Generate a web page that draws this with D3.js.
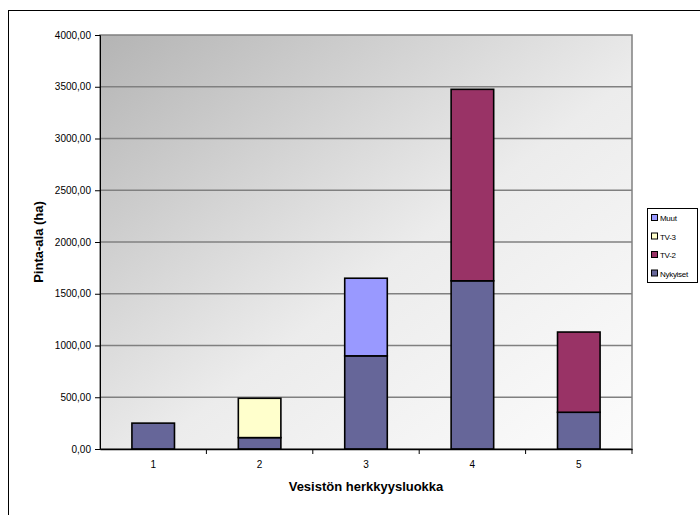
<!DOCTYPE html>
<html>
<head>
<meta charset="utf-8">
<script src="https://cdn.jsdelivr.net/npm/d3@7"></script>
<style>
  html, body { margin: 0; padding: 0; background: #fff; }
  svg { display: block; font-family: "Liberation Sans", Arial, sans-serif; }
</style>
</head>
<body>
<svg id="chart" width="700" height="515"></svg>
<script>
// Vesistön herkkyysluokat ja pinta-alat (ha) sarjoittain
const categories = ["1", "2", "3", "4", "5"];
const seriesNames = ["Nykyiset", "TV-2", "TV-3", "Muut"];
const nykyiset = [250, 110, 900, 1625, 355];
const tv2 = [0, 0, 0, 1850, 775];
const tv3 = [0, 380, 0, 0, 0];
const muut = [0, 0, 750, 0, 0];
const yTicks = [0, 500, 1000, 1500, 2000, 2500, 3000, 3500, 4000];
const seriesColors = ["#666699", "#993366", "#FFFFCC", "#9999FF"];

const svg = d3.select("#chart");
const plot = { left: 100, top: 35, right: 632, bottom: 449 };

// outer frame
svg.append("rect")
  .attr("x", 8.5).attr("y", 10.5)
  .attr("width", 700).attr("height", 520)
  .attr("fill", "#fff").attr("stroke", "#000").attr("stroke-width", 1);

// gradient background of the plot area
const defs = svg.append("defs");
const grad = defs.append("linearGradient")
  .attr("id", "bg").attr("x1", "0").attr("y1", "0").attr("x2", "1").attr("y2", "1");
grad.append("stop").attr("offset", "0%").attr("stop-color", "#b4b4b4");
grad.append("stop").attr("offset", "55%").attr("stop-color", "#ececec");
grad.append("stop").attr("offset", "100%").attr("stop-color", "#fcfcfc");

svg.append("rect")
  .attr("x", plot.left).attr("y", plot.top)
  .attr("width", plot.right - plot.left).attr("height", plot.bottom - plot.top)
  .attr("fill", "url(#bg)").attr("stroke", "#808080").attr("stroke-width", 1.5);

const x = d3.scaleBand().domain(categories).range([plot.left, plot.right]).paddingInner(0.6).paddingOuter(0.3);
const xb = d3.scaleBand().domain(categories).range([plot.left, plot.right]);
const y = d3.scaleLinear().domain([0, 4000]).range([plot.bottom, plot.top]);

// gridlines
svg.append("g").selectAll("line").data(yTicks.slice(1, -1)).join("line")
  .attr("x1", plot.left).attr("x2", plot.right)
  .attr("y1", d => y(d)).attr("y2", d => y(d))
  .attr("stroke", "#808080").attr("stroke-width", 1.3);

// stacked bars
const rows = categories.map((c, i) => ({ cat: c, Nykyiset: nykyiset[i], "TV-2": tv2[i], "TV-3": tv3[i], Muut: muut[i] }));
const stacked = d3.stack().keys(seriesNames)(rows);
stacked.forEach((layer, si) => {
  svg.append("g").selectAll("rect").data(layer.filter(d => d[1] - d[0] > 0)).join("rect")
    .attr("x", d => x(d.data.cat))
    .attr("width", x.bandwidth())
    .attr("y", d => y(d[1]))
    .attr("height", d => y(d[0]) - y(d[1]))
    .attr("fill", seriesColors[si])
    .attr("stroke", "#000").attr("stroke-width", 1.6);
});

// y axis
const fmt = d => d.toFixed(2).replace(".", ",");
const yAxis = svg.append("g").attr("transform", `translate(${plot.left},0)`)
  .call(d3.axisLeft(y).tickValues(yTicks).tickFormat(fmt).tickSize(5).tickPadding(4));
yAxis.select(".domain").attr("stroke", "#000");
yAxis.selectAll("line").attr("stroke", "#000");
yAxis.selectAll("text").attr("font-size", 10).attr("fill", "#000")
  .attr("font-family", "'Liberation Sans', Arial, sans-serif");

// x axis with ticks at category boundaries
const xAxis = svg.append("g").attr("transform", `translate(0,${plot.bottom})`)
  .call(d3.axisBottom(xb).tickSize(0).tickPadding(12));
xAxis.select(".domain").attr("stroke", "#000").attr("stroke-width", 1.5);
xAxis.selectAll("text").attr("font-size", 10).attr("fill", "#000")
  .attr("font-family", "'Liberation Sans', Arial, sans-serif");
xAxis.selectAll(".bound").data(categories.slice(1).concat(["end"])).join("line")
  .attr("x1", (d, i) => plot.left + xb.step() * (i + 1))
  .attr("x2", (d, i) => plot.left + xb.step() * (i + 1))
  .attr("y1", 0).attr("y2", 5).attr("stroke", "#000");

// axis titles
svg.append("text")
  .attr("transform", `translate(43,${(plot.top + plot.bottom) / 2}) rotate(-90)`)
  .attr("text-anchor", "middle").attr("font-size", 13).attr("font-weight", "bold")
  .text("Pinta-ala (ha)");
svg.append("text")
  .attr("x", (plot.left + plot.right) / 2).attr("y", 491)
  .attr("text-anchor", "middle").attr("font-size", 13).attr("font-weight", "bold")
  .text("Vesistön herkkyysluokka");

// legend
const legendItems = seriesNames.slice().reverse();
const leg = svg.append("g").attr("transform", "translate(647,208)");
leg.append("rect").attr("x", 0.5).attr("y", 0.5).attr("width", 50).attr("height", 74)
  .attr("fill", "#fff").attr("stroke", "#000");
legendItems.forEach((name, i) => {
  const yy = 10 + i * 18.5;
  leg.append("rect").attr("x", 4.5).attr("y", yy - 3.5).attr("width", 6).attr("height", 6)
    .attr("fill", seriesColors[seriesNames.indexOf(name)]).attr("stroke", "#000");
  leg.append("text").attr("x", 13).attr("y", yy + 3).attr("font-size", 8)
    .attr("letter-spacing", "-0.3").text(name);
});
</script>
</body>
</html>
